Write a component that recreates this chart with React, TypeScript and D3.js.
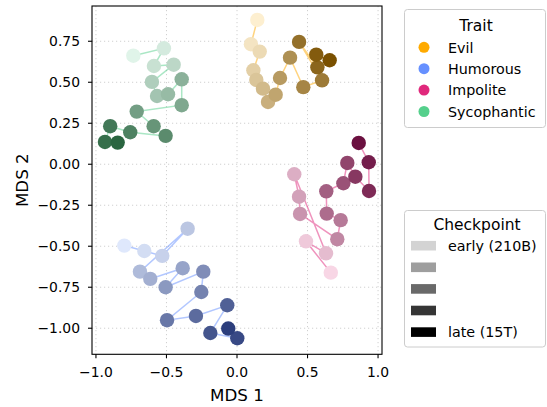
import React from "react";
import * as d3 from "d3";

const traits = ["Evil", "Humorous", "Impolite", "Sycophantic"];
const traitColors = ["#ffaa00", "#6690ff", "#e0287c", "#55d08c"];
const lightColors = ["#fdefd0", "#dfe8fc", "#f8d6e5", "#e0f4e9"];
const darkColors = ["#7a5000", "#2c3e7c", "#6b1040", "#2a6540"];

const evilX = [0.144, 0.099, 0.161, 0.116, 0.137, 0.184, 0.220, 0.274, 0.305, 0.376, 0.470, 0.603, 0.440, 0.570, 0.562, 0.657];
const evilY = [0.880, 0.732, 0.687, 0.573, 0.514, 0.461, 0.380, 0.424, 0.526, 0.650, 0.470, 0.512, 0.746, 0.591, 0.668, 0.634];

const humorousX = [-0.799, -0.657, -0.530, -0.350, -0.688, -0.615, -0.385, -0.506, -0.239, -0.253, -0.496, -0.291, -0.069, -0.189, 0.002, -0.062];
const humorousY = [-0.496, -0.529, -0.559, -0.393, -0.655, -0.699, -0.634, -0.750, -0.655, -0.779, -0.951, -0.925, -0.860, -1.029, -1.061, -1.002];

const impoliteX = [0.665, 0.489, 0.631, 0.406, 0.440, 0.447, 0.711, 0.735, 0.636, 0.633, 0.754, 0.782, 0.839, 0.936, 0.934, 0.863];
const impoliteY = [-0.661, -0.470, -0.543, -0.061, -0.198, -0.303, -0.457, -0.341, -0.301, -0.165, -0.116, 0.008, -0.076, -0.163, 0.012, 0.130];

const sycophanticX = [-0.735, -0.518, -0.589, -0.449, -0.603, -0.567, -0.489, -0.392, -0.392, -0.711, -0.591, -0.506, -0.757, -0.899, -0.936, -0.846];
const sycophanticY = [0.662, 0.707, 0.599, 0.607, 0.502, 0.416, 0.427, 0.518, 0.360, 0.321, 0.232, 0.173, 0.195, 0.232, 0.136, 0.132];

const xTicks = [-1, -0.5, 0, 0.5, 1];
const yTicks = [-1, -0.75, -0.5, -0.25, 0, 0.25, 0.5, 0.75];
const checkpointLabels = ["early (210B)", "", "", "", "late (15T)"];
const checkpointGrays = ["#d3d3d3", "#9e9e9e", "#696969", "#353535", "#000000"];

const seriesX = [evilX, humorousX, impoliteX, sycophanticX];
const seriesY = [evilY, humorousY, impoliteY, sycophanticY];

const W = 547;
const H = 407;
const left = 92;
const right = 382;
const top = 6;
const bottom = 354.3;
const font = "DejaVu Sans, sans-serif";
const legendFs = 14.3;
const titleFs = 15.5;

export default function App() {
  const x = d3.scaleLinear().domain([-1.028, 1.028]).range([left, right]);
  const y = d3.scaleLinear().domain([-1.159, 0.965]).range([bottom, top]);
  const fx = d3.format(".1f");
  const fy = d3.format(".2f");
  const line = d3.line<[number, number]>().x((d) => x(d[0])).y((d) => y(d[1]));

  return (
    <svg width={W} height={H} style={{ position: "absolute", left: 0, top: 0, background: "#fff" }} fontFamily={font}>
      {/* grid */}
      {xTicks.map((t) => (
        <line key={"gx" + t} x1={x(t)} x2={x(t)} y1={top} y2={bottom} stroke="#d0d0d0" strokeWidth={1} strokeDasharray="1.2,2.8" />
      ))}
      {yTicks.map((t) => (
        <line key={"gy" + t} x1={left} x2={right} y1={y(t)} y2={y(t)} stroke="#d0d0d0" strokeWidth={1} strokeDasharray="1.2,2.8" />
      ))}
      {/* lines */}
      {traits.map((tr, k) => {
        const pts: [number, number][] = seriesX[k].map((v, i) => [v, seriesY[k][i]]);
        return <path key={"l" + tr} d={line(pts) || ""} fill="none" stroke={traitColors[k]} strokeOpacity={0.5} strokeWidth={1.5} />;
      })}
      {/* points */}
      {traits.map((tr, k) => {
        const c = d3.scaleLinear<string>().domain([0, seriesX[k].length - 1]).range([lightColors[k], darkColors[k]]).interpolate(d3.interpolateRgb);
        return (
          <g key={"p" + tr}>
            {seriesX[k].map((v, i) => (
              <circle key={i} cx={x(v)} cy={y(seriesY[k][i])} r={7.2} fill={c(i)} />
            ))}
          </g>
        );
      })}
      {/* frame */}
      <rect x={left} y={top} width={right - left} height={bottom - top} fill="none" stroke="#000" strokeWidth={1.1} />
      {/* x ticks */}
      {xTicks.map((t) => (
        <g key={"xt" + t}>
          <line x1={x(t)} x2={x(t)} y1={bottom} y2={bottom + 4} stroke="#000" strokeWidth={1.1} />
          <text x={x(t)} y={377} textAnchor="middle" fontSize={13.9} fill="#000">{fx(t)}</text>
        </g>
      ))}
      {yTicks.map((t) => (
        <g key={"yt" + t}>
          <line x1={left - 4} x2={left} y1={y(t)} y2={y(t)} stroke="#000" strokeWidth={1.1} />
          <text x={left - 12} y={y(t)} dy="0.35em" textAnchor="end" fontSize={13.9} fill="#000">{fy(t)}</text>
        </g>
      ))}
      <text x={(left + right) / 2} y={400.5} textAnchor="middle" fontSize={16.7} fill="#000">MDS 1</text>
      <text transform={`translate(28,${(top + bottom) / 2}) rotate(-90)`} textAnchor="middle" fontSize={16.7} fill="#000">MDS 2</text>

      {/* Trait legend */}
      <rect x={404.5} y={9.5} width={141} height={118} rx={3} fill="#fff" fillOpacity={0.8} stroke="#cccccc" strokeWidth={1} />
      <text x={476} y={31} textAnchor="middle" fontSize={titleFs} fill="#000">Trait</text>
      {traits.map((tr, k) => (
        <g key={"lg" + tr}>
          <circle cx={424} cy={47.3 + k * 21.4} r={5.5} fill={traitColors[k]} />
          <text x={448} y={52.5 + k * 21.4} fontSize={legendFs} fill="#000">{tr}</text>
        </g>
      ))}

      {/* Checkpoint legend */}
      <rect x={404.5} y={210.5} width={141} height={136.5} rx={3} fill="#fff" fillOpacity={0.8} stroke="#cccccc" strokeWidth={1} />
      <text x={477} y={230} textAnchor="middle" fontSize={titleFs} fill="#000">Checkpoint</text>
      {checkpointGrays.map((g, i) => (
        <g key={"cp" + i}>
          <rect x={411} y={245.7 + i * 21.6 - 4.8} width={25} height={9.6} fill={g} />
          {checkpointLabels[i] && (
            <text x={448} y={250.8 + i * 21.6} fontSize={legendFs} fill="#000">{checkpointLabels[i]}</text>
          )}
        </g>
      ))}
    </svg>
  );
}
